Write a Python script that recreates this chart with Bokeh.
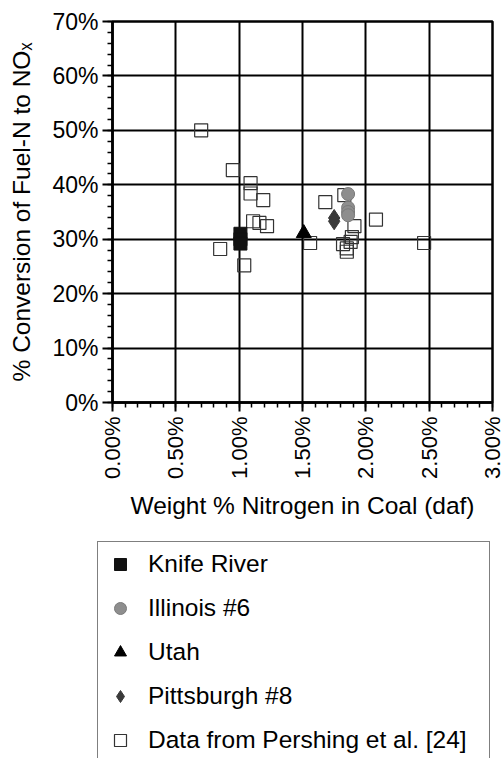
import numpy as np
from bokeh.plotting import figure
from bokeh.layouts import column
from bokeh.models import (Range1d, FixedTicker, PrintfTickFormatter,
                          Legend, LegendItem)
from bokeh.embed import file_html
from bokeh.resources import INLINE

# Fuel-N content (wt% daf) vs. conversion of fuel-N to NOx (%)
knife_x = [1.01, 1.01, 1.01]
knife_y = [31.0, 30.0, 29.2]

illinois_x = [1.86, 1.86, 1.86, 1.86]
illinois_y = [38.3, 35.8, 35.0, 34.4]

utah_x = [1.51]
utah_y = [31.1]

pitt_x = [1.75, 1.75]
pitt_y = [33.9, 33.3]

pershing_x = [0.70, 0.95, 1.09, 1.09, 1.19, 1.11, 1.16, 1.22, 0.85, 1.04,
              1.56, 1.68, 1.83, 1.91, 2.08, 1.89, 1.82, 1.85, 1.85, 1.88, 2.46]
pershing_y = [50.0, 42.7, 40.3, 38.4, 37.2, 33.3, 33.0, 32.4, 28.2, 25.2,
              29.3, 36.8, 38.1, 32.4, 33.6, 30.4, 29.1, 28.3, 27.7, 29.5, 29.3]

series_names = ["Knife River", "Illinois #6", "Utah", "Pittsburgh #8",
                "Data from Pershing et al. [24]"]

x_ticks = [0.0, 0.5, 1.0, 1.5, 2.0, 2.5, 3.0]
y_ticks = [0, 10, 20, 30, 40, 50, 60, 70]

FONT = "Liberation Sans"

# marker styles shared by the chart and the key below it
STYLES = [
    dict(marker="square", fill_color="#111111", line_color="#111111"),
    dict(marker="circle", fill_color="#8e8e8e", line_color="#7a7a7a", line_width=1),
    dict(marker="triangle", fill_color="black", line_color="black"),
    dict(marker="diamond", fill_color="#3a3a3a", line_color="#3a3a3a"),
    dict(marker="square", fill_alpha=0, line_color="#333333", line_width=1.2),
]

p = figure(width=504, height=540, x_range=Range1d(0, 3), y_range=Range1d(0, 70),
           output_backend="svg", toolbar_location=None,
           min_border_left=112, min_border_right=12,
           min_border_top=21, min_border_bottom=138)

p.background_fill_color = "white"
p.border_fill_color = "white"
p.outline_line_color = "black"
p.outline_line_width = 2.5

p.xaxis.ticker = FixedTicker(ticks=x_ticks,
                             minor_ticks=list(np.round(np.arange(0, 3.001, 0.1), 2)))
p.yaxis.ticker = FixedTicker(ticks=y_ticks, minor_ticks=list(range(0, 71, 2)))
p.xaxis.formatter = PrintfTickFormatter(format="%.2f%%")
p.yaxis.formatter = PrintfTickFormatter(format="%d%%")
p.xaxis.major_label_orientation = np.pi / 2

for ax in (p.xaxis[0], p.yaxis[0]):
    ax.axis_line_color = "black"
    ax.axis_line_width = 2.5
    ax.major_tick_line_color = "black"
    ax.major_tick_line_width = 2
    ax.minor_tick_line_color = "black"
    ax.minor_tick_line_width = 1.5
    ax.major_tick_in = 0
    ax.minor_tick_in = 0
    ax.minor_tick_out = 5
    ax.major_label_text_font = FONT
    ax.major_label_text_color = "black"
    ax.axis_label_text_font = FONT
    ax.axis_label_text_font_size = "24.5px"
    ax.axis_label_text_font_style = "normal"
    ax.axis_label_text_color = "black"
p.xaxis.major_label_text_font_size = "22px"
p.yaxis.major_label_text_font_size = "23px"
p.yaxis.major_tick_out = 10
p.yaxis.major_label_standoff = 4
p.xaxis.major_tick_out = 9
p.xaxis.major_label_standoff = 5

p.xaxis.axis_label = "Weight % Nitrogen in Coal (daf)"
p.xaxis.axis_label_standoff = 10
p.yaxis.axis_label = "% Conversion of Fuel-N to NO\u2093"
p.yaxis.axis_label_standoff = 14

p.xgrid.grid_line_color = "black"
p.xgrid.grid_line_width = 2
p.ygrid.grid_line_color = "black"
p.ygrid.grid_line_width = 2

sizes = [13, 13, 15, 17, 13]
data = [(knife_x, knife_y), (illinois_x, illinois_y), (utah_x, utah_y),
        (pitt_x, pitt_y), (pershing_x, pershing_y)]
# open squares go underneath the filled symbols
for i in [4, 1, 0, 2, 3]:
    xs, ys = data[i]
    p.scatter(xs, ys, size=sizes[i], **STYLES[i])

# key panel underneath the chart; its ranges lie away from the data,
# so the proxy renderers only supply the legend symbols
k = figure(frame_width=504, frame_height=218,
           x_range=Range1d(-2, -1), y_range=Range1d(-2, -1),
           output_backend="svg", toolbar_location=None,
           x_axis_type=None, y_axis_type=None,
           min_border=0, min_border_left=0, min_border_right=0,
           min_border_top=0, min_border_bottom=0)
k.frame_align = False
p.frame_align = False
k.outline_line_color = None
k.grid.visible = False
k.background_fill_color = "white"
k.border_fill_color = "white"

items = []
for name, style, (xs, ys) in zip(series_names, STYLES, data):
    r = k.scatter(xs[:1], ys[:1], size=12, **style)
    items.append(LegendItem(label=name, renderers=[r]))

legend = Legend(items=items, location=(97, -5), orientation="vertical")
legend.glyph_width = 30
legend.glyph_height = 30
legend.label_height = 30
legend.spacing = 14
legend.padding = 7
legend.margin = 0
legend.label_standoff = 13
legend.label_width = 334
legend.label_text_font = FONT
legend.label_text_font_size = "24.5px"
legend.label_text_color = "black"
legend.border_line_color = "black"
legend.border_line_width = 1.5
legend.background_fill_color = "white"
legend.background_fill_alpha = 1
k.add_layout(legend)

layout = column(p, k, spacing=0)
open("out.html", "w").write(file_html(layout, INLINE))
